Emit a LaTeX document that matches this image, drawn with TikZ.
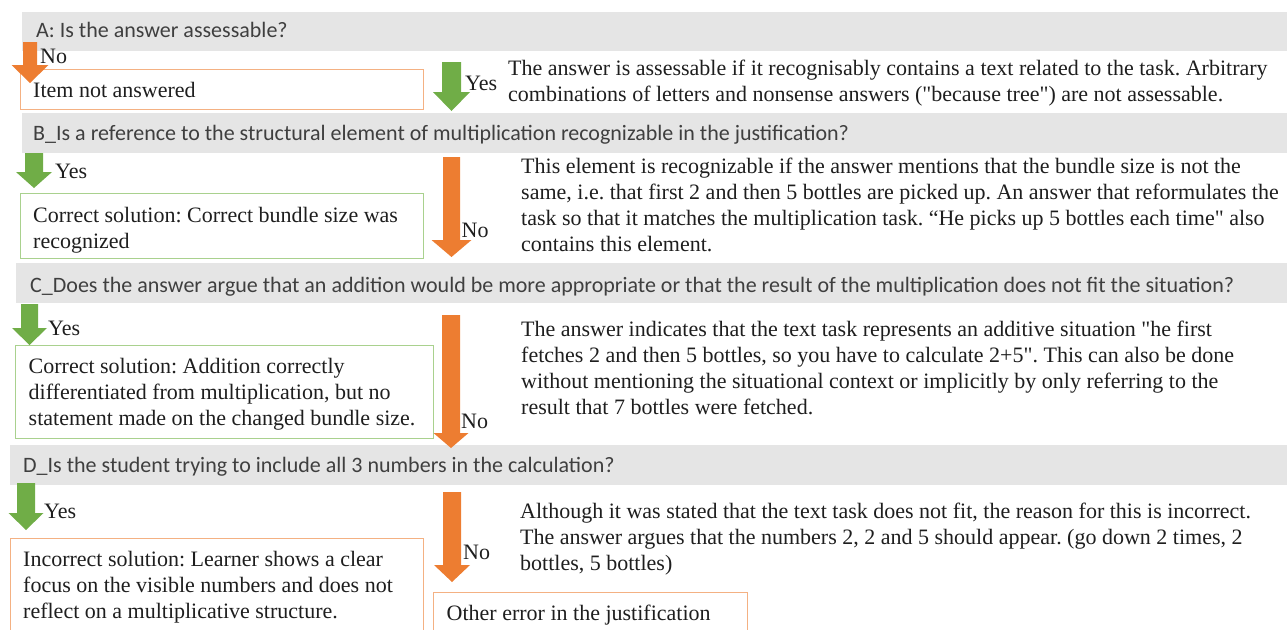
\documentclass[tikz,border=0pt]{standalone}
\usepackage{fontspec}
\setmainfont{Liberation Serif}
\newfontfamily\barfont{Carlito}
\definecolor{bargray}{HTML}{E5E5E5}
\definecolor{bartext}{HTML}{3F3F3F}
\definecolor{bodytext}{HTML}{1E1E1E}
\definecolor{arrorange}{HTML}{ED7D31}
\definecolor{arrgreen}{HTML}{70AD47}
\definecolor{boxorange}{HTML}{F4B183}
\definecolor{boxgreen}{HTML}{A9D18E}
\newcommand{\dq}{\textquotedbl}
\tikzset{
  bar/.style={fill=bargray, draw=none},
  bartxt/.style={anchor=base west, inner sep=0pt, font=\barfont\fontsize{22}{26}\selectfont\frenchspacing, text=bartext},
  txt/.style={anchor=north west, inner sep=0pt, align=left, font=\fontsize{22}{26}\selectfont\frenchspacing, text=bodytext},
  lbl/.style={anchor=base west, inner sep=0pt, font=\fontsize{22}{26}\selectfont\frenchspacing, text=bodytext},
  obox/.style={draw=boxorange, line width=1pt},
  gbox/.style={draw=boxgreen, line width=1pt},
}
% block arrow: colour, centre x, top y, head base y, tip y, shaft half width, head half width
\newcommand{\blockarrow}[7]{%
  \fill[#1] ({#2-#6},#3) -- ({#2+#6},#3) -- ({#2+#6},#4) -- ({#2+#7},#4) -- (#2,#5)
    -- ({#2-#7},#4) -- ({#2-#6},#4) -- cycle;}
\begin{document}
\begin{tikzpicture}[x=1pt,y=-1pt]
\useasboundingbox (0,0) rectangle (1287,629);
\clip (0,0) rectangle (1287,629);
% question bars
\fill[bar] (22,12) rectangle (1287,51);
\fill[bar] (22,113) rectangle (1287,153);
\fill[bar] (16,263) rectangle (1287,303);
\fill[bar] (10,445) rectangle (1287,485);
\node[bartxt] (qA) at (36,37.5) {A: Is the answer assessable?};
\node[bartxt] (qB) at (33,140) {B\_Is a reference to the structural element of multiplication recognizable in the justification?};
\node[bartxt] (qC) at (30,292) {C\_Does the answer argue that an addition would be more appropriate or that the result of the multiplication does not fit the situation?};
\node[bartxt] (qD) at (23,472) {D\_Is the student trying to include all 3 numbers in the calculation?};
% result boxes
\draw[obox] (20,69) rectangle (423,109);
\draw[gbox] (20,193) rectangle (423,258);
\draw[gbox] (15,345) rectangle (433,438);
\draw[obox] (10,538) rectangle (423,660);
\draw[obox] (433,592) rectangle (747,660);
\node[lbl] (rA) at (33,97) {Item not answered};
\node[txt] (rB) at (33,{222-18.2}) {\strut Correct solution: Correct bundle size was\\recognized};
\node[txt] (rC) at (28.5,{373-18.2}) {\strut Correct solution: Addition correctly\\differentiated from multiplication, but no\\statement made on the changed bundle size.};
\node[txt] (rD) at (23,{566.5-18.2}) {\strut Incorrect solution: Learner shows a clear\\focus on the visible numbers and does not\\reflect on a multiplicative structure.};
\node[lbl] (rE) at (446.5,620) {Other error in the justification};
% descriptions
\node[txt] (dA) at (508,{75-18.2}) {\strut The answer is assessable if it recognisably contains a text related to the task. Arbitrary\\combinations of letters and nonsense answers (\dq because tree\dq) are not assessable.};
\node[txt] (dB) at (521,{173-18.2}) {\strut This element is recognizable if the answer mentions that the bundle size is not the\\same, i.e. that first 2 and then 5 bottles are picked up. An answer that reformulates the\\task so that it matches the multiplication task. “He picks up 5 bottles each time\dq{} also\\contains this element.};
\node[txt] (dC) at (521,{336-18.2}) {\strut The answer indicates that the text task represents an additive situation \dq he first\\fetches 2 and then 5 bottles, so you have to calculate 2+5\dq. This can also be done\\without mentioning the situational context or implicitly by only referring to the\\result that 7 bottles were fetched.};
\node[txt] (dD) at (520,{518-18.2}) {\strut Although it was stated that the text task does not fit, the reason for this is incorrect.\\The answer argues that the numbers 2, 2 and 5 should appear. (go down 2 times, 2\\bottles, 5 bottles)};
% arrows
\blockarrow{arrorange}{30}{42}{65}{83}{7}{18.5}
\blockarrow{arrgreen}{451.5}{62}{92}{111}{9.5}{18.5}
\blockarrow{arrgreen}{34}{153}{172}{188}{9}{18}
\blockarrow{arrorange}{451.5}{157}{240}{257}{8.5}{20}
\blockarrow{arrgreen}{29.5}{304}{328}{345}{8.5}{17.5}
\blockarrow{arrorange}{451}{315}{433}{448}{9}{17.5}
\blockarrow{arrgreen}{26}{483}{513}{530}{9}{17.5}
\blockarrow{arrorange}{452}{492}{565}{582}{9}{18}
% branch labels
\node[lbl] (nA) at (40,63) {No};
\node[lbl] (yA) at (465,90) {Yes};
\node[lbl] (yB) at (55,178) {Yes};
\node[lbl] (nB) at (461.5,237) {No};
\node[lbl] (yC) at (48,335) {Yes};
\node[lbl] (nC) at (461,428) {No};
\node[lbl] (yD) at (44,518) {Yes};
\node[lbl] (nD) at (463,559) {No};
\end{tikzpicture}
\end{document}
